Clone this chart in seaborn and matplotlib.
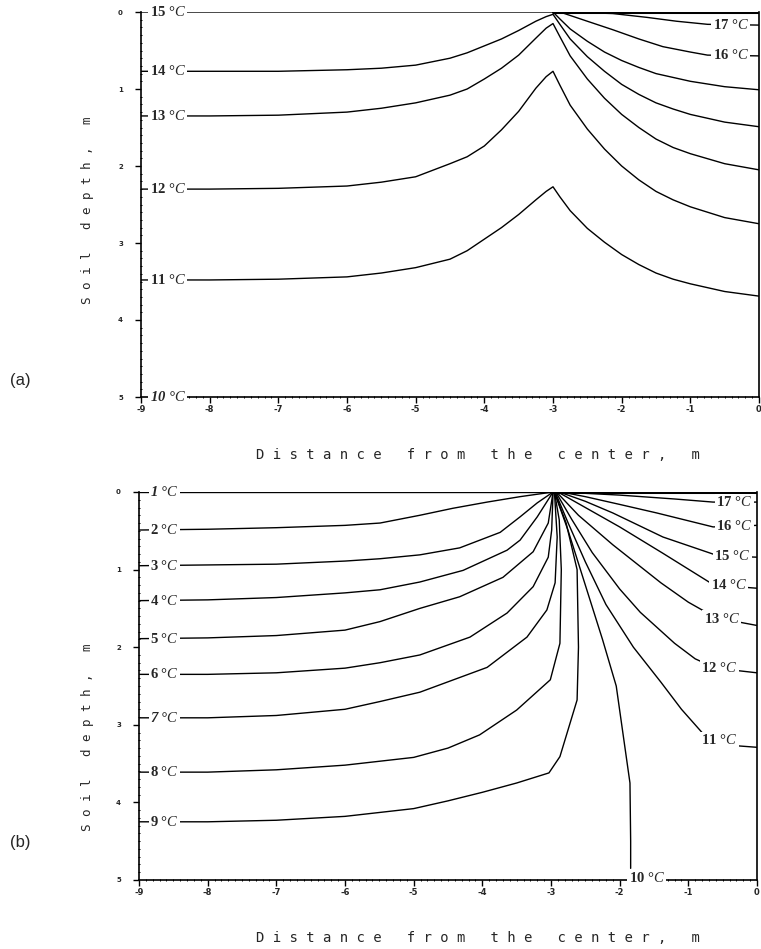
import numpy as np
import matplotlib
matplotlib.use("Agg")
import matplotlib.pyplot as plt
import seaborn as sns
from matplotlib.ticker import MultipleLocator

# ---------------- data: panel (a) ----------------
a_x = [-9, -8, -7, -6, -5.5, -5, -4.5, -4.25, -4, -3.75, -3.5, -3.25, -3.1, -3.0,
       -2.9, -2.75, -2.5, -2.25, -2, -1.75, -1.5, -1.25, -1, -0.5, 0]
a_15 = [0, 0, 0, 0, 0, 0, 0, 0, 0, 0, 0, 0, 0, 0,
        0.09, 0.22, 0.38, 0.52, 0.63, 0.72, 0.80, 0.85, 0.90, 0.97, 1.01]
a_14 = [0.77, 0.77, 0.77, 0.75, 0.73, 0.69, 0.60, 0.53, 0.44, 0.35, 0.24, 0.12, 0.06, 0.03,
        0.16, 0.35, 0.58, 0.77, 0.94, 1.07, 1.18, 1.26, 1.33, 1.43, 1.49]
a_13 = [1.35, 1.35, 1.34, 1.30, 1.25, 1.18, 1.08, 1.00, 0.87, 0.73, 0.56, 0.34, 0.21, 0.15,
        0.32, 0.57, 0.87, 1.12, 1.33, 1.50, 1.65, 1.76, 1.84, 1.97, 2.05]
a_12 = [2.30, 2.30, 2.29, 2.26, 2.21, 2.14, 1.97, 1.88, 1.74, 1.53, 1.29, 0.99, 0.84, 0.77,
        0.95, 1.21, 1.52, 1.78, 2.00, 2.18, 2.33, 2.44, 2.53, 2.67, 2.75]
a_11 = [3.48, 3.48, 3.47, 3.44, 3.39, 3.32, 3.21, 3.10, 2.95, 2.80, 2.63, 2.44, 2.33, 2.27,
        2.40, 2.58, 2.81, 2.99, 3.15, 3.28, 3.39, 3.47, 3.53, 3.63, 3.69]
a_16_x = [-2.9, -2.5, -2.13, -1.75, -1.4, -1.0, -0.75, 0]
a_16 = [0.0, 0.12, 0.23, 0.35, 0.45, 0.52, 0.56, 0.57]
a_17_x = [-2.8, -2.13, -1.63, -1.2, -0.75, 0]
a_17 = [0.0, 0.02, 0.07, 0.12, 0.16, 0.17]
a_left_temps = [15, 14, 13, 12, 11]

# ---------------- data: panel (b) ----------------
b_1_x = [-9, -2.97]
b_1 = [0.0, 0.0]
b_2_x = [-9, -8, -7, -6, -5.49, -4.91, -4.43, -3.93, -3.45, -2.97]
b_2 = [0.49, 0.48, 0.46, 0.43, 0.40, 0.30, 0.21, 0.13, 0.06, 0.0]
b_3_x = [-9, -8, -7, -6, -5.49, -4.91, -4.33, -3.74, -3.45, -3.2, -2.97]
b_3 = [0.95, 0.94, 0.93, 0.89, 0.86, 0.81, 0.72, 0.52, 0.32, 0.14, 0.0]
b_4_x = [-9, -8, -7, -6, -5.49, -4.91, -4.28, -3.64, -3.45, -3.2, -2.97]
b_4 = [1.40, 1.39, 1.36, 1.30, 1.26, 1.16, 1.01, 0.75, 0.62, 0.32, 0.0]
b_5_x = [-9, -8, -7, -6, -5.49, -4.91, -4.33, -3.70, -3.26, -3.04, -2.97]
b_5 = [1.89, 1.88, 1.85, 1.78, 1.67, 1.50, 1.35, 1.10, 0.77, 0.40, 0.0]
b_6_x = [-9, -8, -7, -6, -5.49, -4.91, -4.18, -3.64, -3.26, -3.04, -2.99, -2.97]
b_6 = [2.35, 2.35, 2.33, 2.27, 2.20, 2.10, 1.87, 1.56, 1.22, 0.84, 0.49, 0.0]
b_7_x = [-9, -8, -7, -6, -5.49, -4.91, -3.93, -3.35, -3.06, -2.94, -2.91, -2.95]
b_7 = [2.91, 2.91, 2.88, 2.80, 2.70, 2.58, 2.26, 1.87, 1.52, 1.17, 0.58, 0.0]
b_8_x = [-9, -8, -7, -6, -5, -4.5, -4.04, -3.5, -3.01, -2.87, -2.85, -2.88, -2.95]
b_8 = [3.61, 3.61, 3.58, 3.52, 3.42, 3.30, 3.13, 2.81, 2.42, 1.95, 1.0, 0.36, 0.0]
b_9_x = [-9, -8, -7, -6, -5, -4.5, -4, -3.5, -3.03, -2.87, -2.62, -2.60, -2.62, -2.78, -2.95]
b_9 = [4.25, 4.25, 4.23, 4.18, 4.08, 3.98, 3.87, 3.75, 3.62, 3.41, 2.68, 2.0, 1.0, 0.4, 0.0]
b_10_x = [-2.95, -2.75, -2.5, -2.25, -2.05, -1.85, -1.84, -1.84]
b_10 = [0.0, 0.5, 1.2, 1.9, 2.5, 3.75, 4.5, 4.85]
b_11_x = [-2.94, -2.75, -2.5, -2.2, -1.8, -1.4, -1.1, -0.8, -0.55, -0.3, 0]
b_11 = [0.0, 0.4, 0.9, 1.45, 2.0, 2.45, 2.8, 3.1, 3.2, 3.27, 3.29]
b_12_x = [-2.93, -2.7, -2.4, -2.0, -1.7, -1.2, -0.9, -0.6, 0]
b_12 = [0.0, 0.35, 0.78, 1.25, 1.55, 1.95, 2.15, 2.27, 2.33]
b_13_x = [-2.92, -2.6, -2.1, -1.4, -1.0, -0.6, 0]
b_13 = [0.0, 0.3, 0.68, 1.17, 1.42, 1.62, 1.72]
b_14_x = [-2.9, -2.5, -2.0, -1.37, -0.68, -0.3, 0]
b_14 = [0.0, 0.2, 0.45, 0.79, 1.17, 1.22, 1.24]
b_15_x = [-2.88, -2.5, -2.1, -1.37, -0.64, -0.3, 0]
b_15 = [0.0, 0.12, 0.27, 0.58, 0.80, 0.83, 0.84]
b_16_x = [-2.85, -2.5, -2.0, -1.46, -0.64, -0.3, 0]
b_16 = [0.0, 0.06, 0.16, 0.27, 0.45, 0.44, 0.43]
b_17_x = [-2.87, -2.0, -1.2, -0.64, 0]
b_17 = [0.0, 0.04, 0.09, 0.13, 0.13]

x_ticks = [-9, -8, -7, -6, -5, -4, -3, -2, -1, 0]
y_ticks = [0, 1, 2, 3, 4, 5]

# ---------------- style ----------------
sns.set_style("ticks")
plt.rcParams["font.family"] = ["DejaVu Sans"]
plt.rcParams["mathtext.fontset"] = "custom"
plt.rcParams["mathtext.rm"] = "Liberation Serif"
plt.rcParams["mathtext.it"] = "Liberation Serif:italic"
plt.rcParams["axes.unicode_minus"] = False

W, H = 761, 949
fig = plt.figure(figsize=(W / 100, H / 100), dpi=100)
fig.patch.set_facecolor("white")

LW = 1.0
SERIF = ["Liberation Serif", "DejaVu Serif"]
MONO = ["DejaVu Sans Mono"]


def spaced(s):
    return " ".join(list(s))


def line(ax, xs, ys, lw=LW):
    sns.lineplot(x=xs, y=ys, sort=False, estimator=None, color="black",
                 linewidth=lw, ax=ax, legend=False)


def templabel(ax, x, y, t, ha="left", italic=False):
    txt = f"{t} °$C$"
    ax.text(x, y, txt, ha=ha, va="center", fontsize=10.5, family=SERIF,
            fontweight="bold", fontstyle="italic" if italic else "normal",
            bbox=dict(facecolor="white", edgecolor="none", pad=1.0),
            zorder=5, clip_on=False)


def setup(ax):
    ax.set_xlim(-9, 0)
    ax.set_ylim(5, 0)
    ax.set_xticks(x_ticks)
    ax.set_xticklabels([str(v) for v in x_ticks])
    ax.set_yticks(y_ticks)
    ax.set_yticklabels([str(v) for v in y_ticks])
    ax.xaxis.set_minor_locator(MultipleLocator(0.1))
    ax.yaxis.set_minor_locator(MultipleLocator(0.1))
    ax.tick_params(axis="both", which="major", direction="out", length=4,
                   width=1.0, color="black")
    ax.tick_params(axis="both", which="minor", direction="inout", length=2,
                   width=0.7, color="black")
    ax.tick_params(axis="x", which="major", labelsize=6, pad=2)
    ax.tick_params(axis="y", which="major", labelsize=5, pad=9)
    for lab in ax.get_xticklabels() + ax.get_yticklabels():
        lab.set_fontweight("bold")
    ax.spines["top"].set_visible(False)
    for s in ["left", "bottom", "right"]:
        ax.spines[s].set_linewidth(1.2)
        ax.spines[s].set_color("black")
    ax.set_xlabel("")
    ax.set_ylabel("")
    ax.set_facecolor("white")


# ---------------- panel (a) ----------------
axa = fig.add_axes([141 / W, 1 - 397 / H, 618 / W, 385 / H])
for ys in [a_15, a_14, a_13, a_12, a_11]:
    line(axa, a_x, ys)
line(axa, a_16_x, a_16)
line(axa, a_17_x, a_17)
line(axa, [a_x[13], a_x[-1]], [0, 0], lw=2.2)
setup(axa)
for t, ys in zip(a_left_temps, [a_15, a_14, a_13, a_12, a_11]):
    templabel(axa, -8.87, ys[0], t)
templabel(axa, -8.87, 5.0, 10, italic=True)
templabel(axa, -0.15, np.interp(-0.45, a_17_x, a_17), 17, ha="right")
templabel(axa, -0.15, np.interp(-0.45, a_16_x, a_16), 16, ha="right")

# ---------------- panel (b) ----------------
axb = fig.add_axes([139 / W, 1 - 880 / H, 618 / W, 388 / H])
left_b = [(b_1_x, b_1), (b_2_x, b_2), (b_3_x, b_3), (b_4_x, b_4), (b_5_x, b_5),
          (b_6_x, b_6), (b_7_x, b_7), (b_8_x, b_8), (b_9_x, b_9)]
right_b = [(b_17_x, b_17, 17, -0.07), (b_16_x, b_16, 16, -0.07),
           (b_15_x, b_15, 15, -0.10), (b_14_x, b_14, 14, -0.15),
           (b_13_x, b_13, 13, -0.25), (b_12_x, b_12, 12, -0.29),
           (b_11_x, b_11, 11, -0.29)]
for xs, ys in left_b:
    line(axb, xs, ys)
line(axb, b_10_x, b_10)
for xs, ys, t, xr in right_b:
    line(axb, xs, ys)
line(axb, [-2.97, 0], [0, 0], lw=2.2)
setup(axb)
for i, (xs, ys) in enumerate(left_b):
    templabel(axb, -8.84, ys[0], i + 1, italic=(i + 1) in (1, 7))
for xs, ys, t, xr in right_b:
    templabel(axb, xr, np.interp(xr - 0.27, xs, ys), t, ha="right")
templabel(axb, -1.87, 4.98, 10)

# ---------------- axis titles and panel tags ----------------
for yc in [455, 938]:
    fig.text(478 / W, 1 - yc / H, spaced("Distance from the center, m"),
             ha="center", va="center", fontsize=10, family=MONO)
for yc in [210, 737]:
    fig.text(88 / W, 1 - yc / H, spaced("Soil depth, m"), rotation=90,
             ha="center", va="center", fontsize=9, family=MONO)
fig.text(20 / W, 1 - 380 / H, "(a)", ha="center", va="center", fontsize=12,
         family=["Liberation Sans", "DejaVu Sans"])
fig.text(20 / W, 1 - 842 / H, "(b)", ha="center", va="center", fontsize=12,
         family=["Liberation Sans", "DejaVu Sans"])

fig.savefig("out.png", dpi=100, facecolor="white")
